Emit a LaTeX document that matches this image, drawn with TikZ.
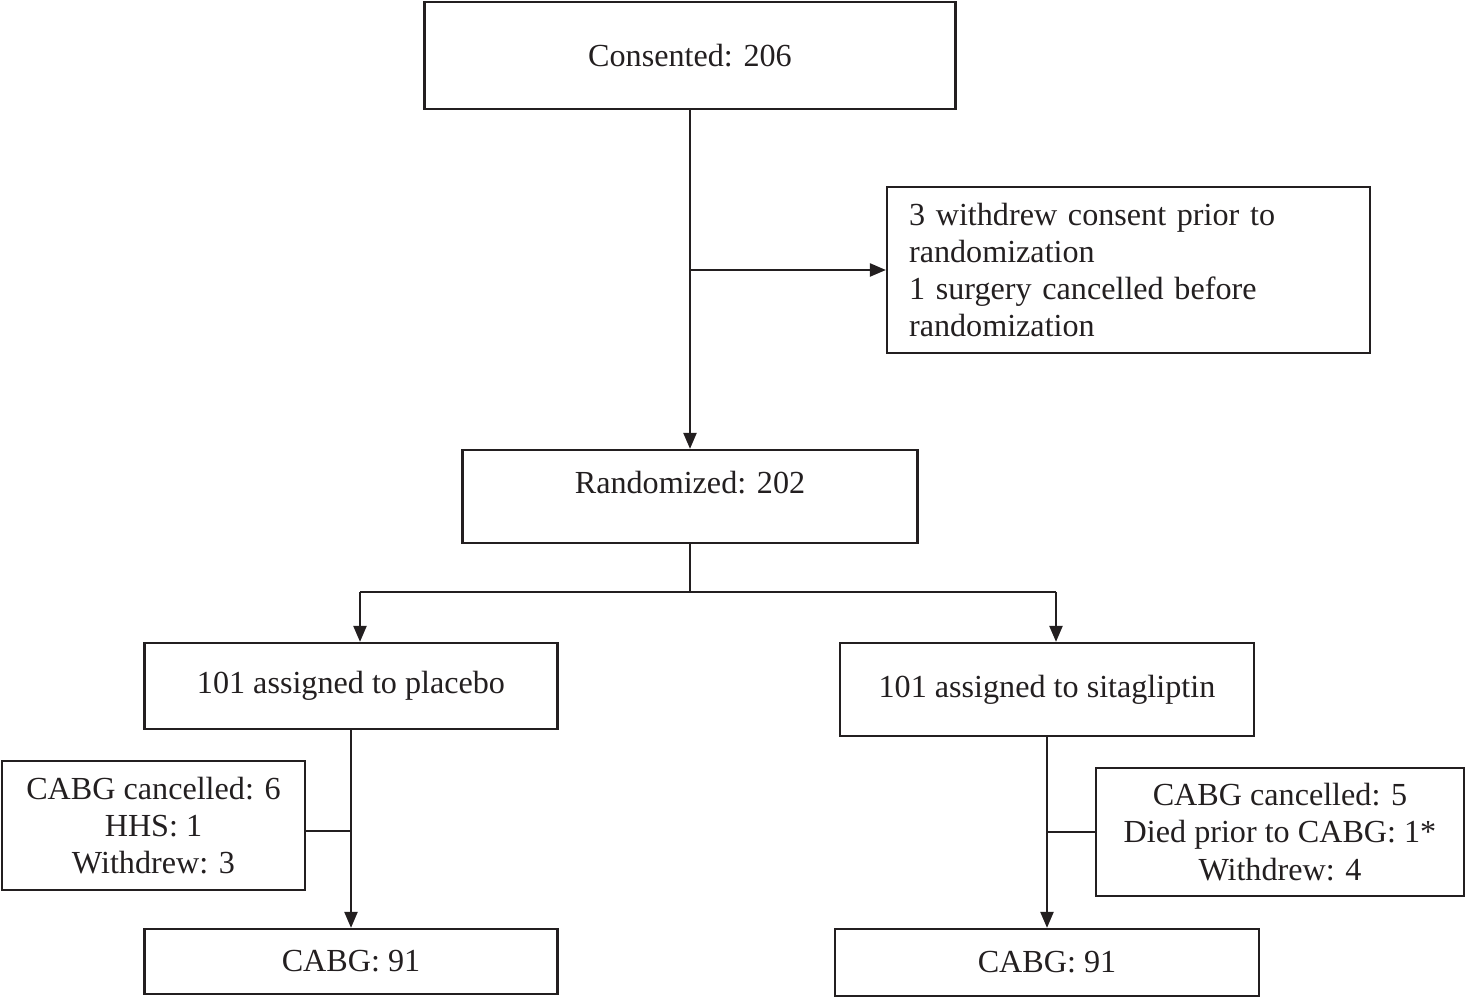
\documentclass[tikz,border=0pt]{standalone}
\usepackage{fontspec}
\setmainfont{Liberation Serif}
\usetikzlibrary{arrows.meta}
\definecolor{ink}{HTML}{231F20}
\begin{document}
\begin{tikzpicture}[x=0.02cm,y=-0.02cm,ink,line width=0.045cm,
  >={Triangle[length=0.32cm,width=0.26cm]},
  box/.style={draw,rectangle,inner sep=0pt,align=center,
    font=\fontsize{18.3pt}{21.2pt}\selectfont}]
\useasboundingbox (0,0) rectangle (1465,999);
\node[box,minimum width=10.62cm,minimum height=2.14cm] (cons) at (690,55.5) {Consented: 206};
\node[box,minimum width=9.66cm,minimum height=3.32cm,text width=8.78cm,align=left] (excl) at (1128.5,270)
  {3 withdrew consent prior to\\randomization\\1 surgery cancelled before\\randomization};
\node[box,minimum width=9.1cm,minimum height=1.86cm,text depth=0.56cm] (rand) at (690,496.5) {Randomized: 202};
\node[box,minimum width=8.26cm,minimum height=1.72cm] (plac) at (351,686) {101 assigned to placebo};
\node[box,minimum width=8.28cm,minimum height=1.86cm] (sita) at (1047,689.5) {101 assigned to sitagliptin};
\node[box,minimum width=6.06cm,minimum height=2.58cm] (lexc) at (153.5,825.5) {CABG cancelled: 6\\HHS: 1\\Withdrew: 3};
\node[box,minimum width=7.36cm,minimum height=2.56cm] (rexc) at (1280,832) {CABG cancelled: 5\\Died prior to CABG: 1*\\Withdrew: 4};
\node[box,minimum width=8.26cm,minimum height=1.3cm] (lcab) at (351,961.5) {CABG: 91};
\node[box,minimum width=8.48cm,minimum height=1.34cm] (rcab) at (1047,962.5) {CABG: 91};
\coordinate (split) at (690,592);
\coordinate (splitl) at (360,592);
\coordinate (splitr) at (1056,592);
\draw[->] (cons) -- (rand);
\draw[->] (cons.south |- excl.west) -- (excl.west);
\draw (rand.south) -- (split);
\draw (splitl) -- (splitr);
\draw[->] (splitl) -- (splitl |- plac.north);
\draw[->] (splitr) -- (splitr |- sita.north);
\draw[->] (plac) -- (lcab);
\draw ([yshift=-0.11cm]lexc.east) -- ([yshift=-0.11cm]lexc.east -| plac.south);
\draw[->] (sita) -- (rcab);
\draw (rexc.west) -- (rexc.west -| sita.south);
\end{tikzpicture}
\end{document}
